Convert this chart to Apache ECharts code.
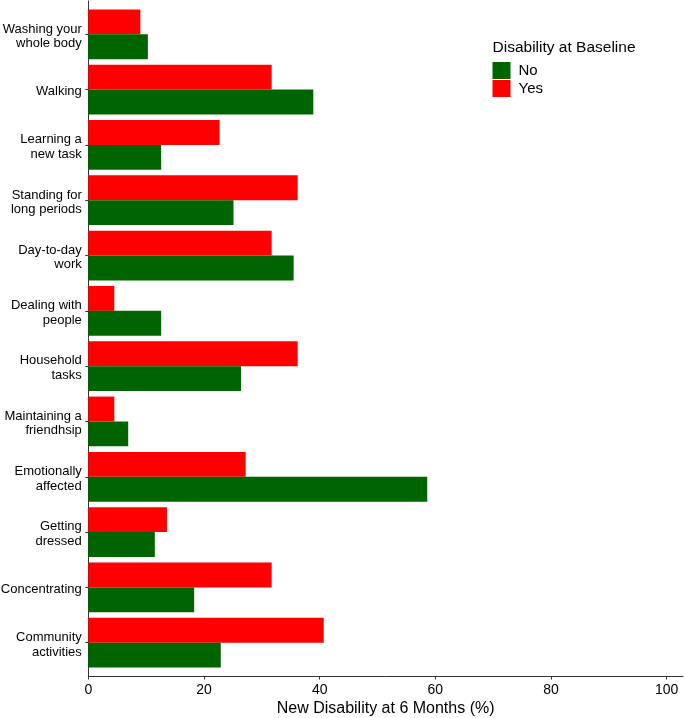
<!DOCTYPE html>
<html>
<head>
<meta charset="utf-8">
<script src="https://cdn.jsdelivr.net/npm/echarts@6/dist/echarts.min.js"></script>
<style>html,body{margin:0;padding:0;background:#fff}#c{width:685px;height:718px}</style>
</head>
<body>
<div id="c"></div>
<script>
const categories = [
  "Washing your\nwhole body",
  "Walking",
  "Learning a\nnew task",
  "Standing for\nlong periods",
  "Day-to-day\nwork",
  "Dealing with\npeople",
  "Household\ntasks",
  "Maintaining a\nfriendhsip",
  "Emotionally\naffected",
  "Getting\ndressed",
  "Concentrating",
  "Community\nactivities"
];
const yesValues = [9.0, 31.7, 22.7, 36.2, 31.7, 4.5, 36.2, 4.5, 27.2, 13.6, 31.7, 40.7];
const noValues  = [10.3, 38.9, 12.6, 25.1, 35.5, 12.6, 26.4, 6.9, 58.6, 11.5, 18.3, 22.9];
const xTicks = [0, 20, 40, 60, 80, 100];
const seriesNames = ["No", "Yes"];

const FONT = "'Liberation Sans', Arial, sans-serif";
const chart = echarts.init(document.getElementById('c'), null, {renderer: 'canvas'});
const xMax = 102.8;
chart.setOption({
  animation: false,
  backgroundColor: '#ffffff',
  textStyle: {fontFamily: FONT},
  title: {
    text: 'Disability at Baseline',
    left: 492.5, top: 40, padding: 0,
    textStyle: {fontFamily: FONT, fontSize: 15.5, fontWeight: 'normal', color: '#000'}
  },
  legend: {
    data: seriesNames,
    orient: 'vertical',
    left: 492.5, top: 62,
    padding: 0,
    itemWidth: 18, itemHeight: 17, itemGap: 1,
    icon: 'rect',
    textStyle: {fontFamily: FONT, fontSize: 15, color: '#000', padding: [0, 0, 0, 3]}
  },
  grid: [
    {left: 88.3, right: 2.1, top: 6.65, height: 663.7, containLabel: false, outerBoundsMode: 'none'},
    {left: 88.3, right: 2.1, top: 1, height: 675, containLabel: false, outerBoundsMode: 'none'}
  ],
  xAxis: [
    {gridIndex: 0, type: 'value', min: 0, max: xMax, show: false},
    {gridIndex: 1, type: 'value', min: 0, max: xMax,
     axisLine: {show: true, lineStyle: {color: '#333', width: 1}},
     axisTick: {show: true, length: 3.5, customValues: xTicks, lineStyle: {color: '#333'}},
     axisLabel: {customValues: xTicks, fontSize: 14, color: '#000', margin: 7.5, fontFamily: FONT},
     splitLine: {show: false},
     name: 'New Disability at 6 Months (%)',
     nameLocation: 'middle', nameGap: 25, nameMoveOverlap: false,
     nameTextStyle: {fontSize: 16, color: '#000', fontFamily: FONT}
    }
  ],
  yAxis: [
    {gridIndex: 0, type: 'category', data: categories, inverse: true,
     axisLine: {show: false},
     axisTick: {show: true, alignWithLabel: true, length: 3, lineStyle: {color: '#333'}},
     axisLabel: {
       fontSize: 13, color: '#000', margin: 6.5, lineHeight: 14.5, fontFamily: FONT, align: 'right',
       formatter: function (v) {
         return '{sp| }\n' + v.split('\n').map(function (l) { return '{t|' + l + '}'; }).join('\n');
       },
       rich: {
         sp: {fontSize: 1, lineHeight: 4, align: 'right'},
         t: {fontSize: 13, lineHeight: 14.5, color: '#000', fontFamily: FONT, align: 'right'}
       }
     },
     splitLine: {show: false}
    },
    {gridIndex: 1, type: 'value', min: 0, max: 1,
     axisLine: {show: true, lineStyle: {color: '#333', width: 1}},
     axisTick: {show: false}, axisLabel: {show: false}, splitLine: {show: false}
    }
  ],
  series: [
    {name: 'Yes', type: 'bar', xAxisIndex: 0, yAxisIndex: 0, data: yesValues,
     itemStyle: {color: '#FF0000'}, barCategoryGap: '10%', barGap: '0%'},
    {name: 'No', type: 'bar', xAxisIndex: 0, yAxisIndex: 0, data: noValues,
     itemStyle: {color: '#006400'}, barCategoryGap: '10%', barGap: '0%'}
  ]
});
</script>
</body>
</html>
